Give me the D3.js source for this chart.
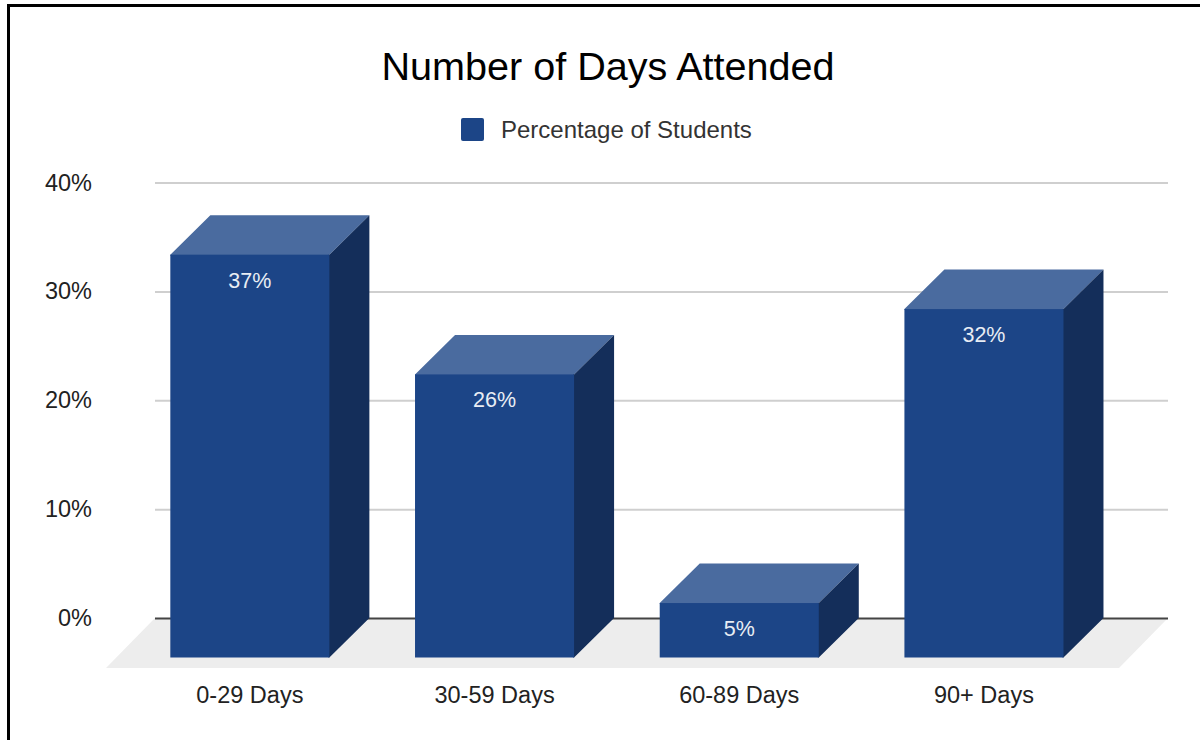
<!DOCTYPE html>
<html>
<head>
<meta charset="utf-8">
<script src="https://cdnjs.cloudflare.com/ajax/libs/d3/7.8.5/d3.min.js"></script>
<style>
  html, body { margin: 0; padding: 0; background: #fff; overflow: hidden; }
  svg text { font-family: "Liberation Sans", Arial, sans-serif; }
</style>
</head>
<body>
<div id="chart"></div>
<script>
const categories = ["0-29 Days", "30-59 Days", "60-89 Days", "90+ Days"];
const percentages = [37, 26, 5, 32];
const yTicks = [0, 10, 20, 30, 40];
const seriesName = "Percentage of Students";
const chartTitle = "Number of Days Attended";

const width = 1200, height = 740;

// the 3d box: front face sits down-left of the back face
const depthX = 40, depthY = 39.5;

const svg = d3.select("#chart").append("svg")
    .attr("width", width)
    .attr("height", height);

svg.append("rect").attr("width", width).attr("height", height).attr("fill", "#fff");

// outer frame of the screenshot
svg.append("path")
    .attr("d", "M8.5,740V5.5H1200")
    .attr("fill", "none")
    .attr("stroke", "#000")
    .attr("stroke-width", 3);

const y = d3.scaleLinear().domain([0, 40]).range([618, 182.5]);

// back plane of the bars
const x = d3.scaleBand()
    .domain(categories)
    .range([167.5, 1146.3])
    .paddingInner(0.35)
    .paddingOuter(0.175);

const floorLeft = 155, floorRight = 1168, floorDepth = 49;

svg.append("path")
    .attr("d", `M${floorLeft},${y(0)}H${floorRight}L${floorRight - floorDepth},${y(0) + floorDepth + 1}H${floorLeft - floorDepth}Z`)
    .attr("fill", "#ededed");

const yAxis = svg.append("g")
    .attr("transform", `translate(${floorLeft},0)`)
    .call(d3.axisLeft(y)
        .tickValues(yTicks)
        .tickFormat(d => d + "%")
        .tickSize(-(floorRight - floorLeft))
        .tickPadding(63));

yAxis.select(".domain").remove();
yAxis.selectAll(".tick line")
    .attr("stroke", d => d === 0 ? "#444" : "#cfcfcf")
    .attr("stroke-width", 2);
yAxis.selectAll(".tick text")
    .attr("fill", "#222")
    .style("font-size", "23.5px");

// x labels are centred under the front faces
const xAxis = svg.append("g")
    .attr("transform", `translate(${-depthX},${y(0) + 54})`)
    .call(d3.axisBottom(x).tickSize(0).tickPadding(14));

xAxis.select(".domain").remove();
xAxis.selectAll(".tick text")
    .attr("fill", "#222")
    .style("font-size", "23.5px");

const bars = svg.selectAll(".bar")
    .data(percentages)
    .enter().append("g")
    .attr("class", "bar");

const bx = (d, i) => x(categories[i]);
const bw = x.bandwidth();

// top, runs 1px under the front face so no seam shows
bars.append("path")
    .attr("fill", "#4a6b9f")
    .attr("d", (d, i) => {
        const l = bx(d, i), t = y(d);
        return `M${l},${t}h${bw}l${-depthX},${depthY}v1h${-bw}v-1Z`;
    });

// side, same overlap
bars.append("path")
    .attr("fill", "#142e5a")
    .attr("d", (d, i) => {
        const r = bx(d, i) + bw, t = y(d), b = y(0);
        return `M${r},${t}V${b}l${-depthX},${depthY}h-1V${t + depthY}h1Z`;
    });

// front
bars.append("rect")
    .attr("fill", "#1c4587")
    .attr("x", (d, i) => bx(d, i) - depthX)
    .attr("y", d => y(d) + depthY)
    .attr("width", bw)
    .attr("height", d => y(0) - y(d));

bars.append("text")
    .attr("x", (d, i) => bx(d, i) - depthX + bw / 2)
    .attr("y", d => y(d) + depthY + 25.5)
    .attr("dy", "0.35em")
    .attr("text-anchor", "middle")
    .attr("fill", "#e8edf4")
    .style("font-size", "21.5px")
    .text(d => d + "%");

svg.append("text")
    .attr("x", 608)
    .attr("y", 80)
    .attr("text-anchor", "middle")
    .attr("fill", "#000")
    .style("font-size", "39.6px")
    .text(chartTitle);

svg.append("rect")
    .attr("x", 461).attr("y", 118)
    .attr("width", 23).attr("height", 23)
    .attr("rx", 2)
    .attr("fill", "#1c4587");

svg.append("text")
    .attr("x", 501)
    .attr("y", 137.5)
    .attr("fill", "#333")
    .style("font-size", "24px")
    .text(seriesName);
</script>
</body>
</html>
